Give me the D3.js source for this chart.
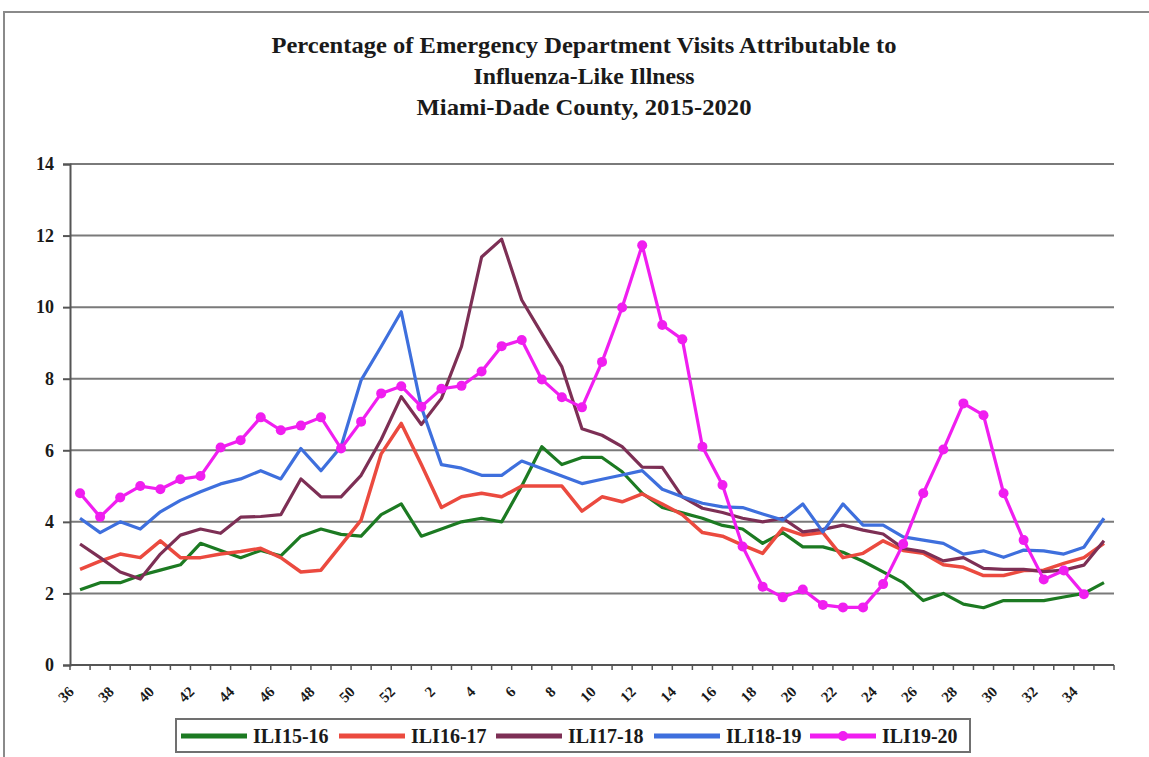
<!DOCTYPE html>
<html>
<head>
<meta charset="utf-8">
<script src="https://cdn.jsdelivr.net/npm/d3@7/dist/d3.min.js"></script>
<style>
  html, body { margin: 0; padding: 0; background: #ffffff; }
  svg { display: block; }
  text { font-family: "Liberation Serif", "Times New Roman", serif; font-weight: bold; fill: #1a1a1a; }
</style>
</head>
<body>
<svg id="chart" width="1149" height="757"></svg>
<script>
const weeks = [36,37,38,39,40,41,42,43,44,45,46,47,48,49,50,51,52,1,2,3,4,5,6,7,8,9,10,11,12,13,14,15,16,17,18,19,20,21,22,23,24,25,26,27,28,29,30,31,32,33,34,35];
const weekLabels = [36,38,40,42,44,46,48,50,52,2,4,6,8,10,12,14,16,18,20,22,24,26,28,30,32,34];
const yTicks = [0,2,4,6,8,10,12,14];

const ili1516 = [2.1,2.3,2.3,2.5,2.65,2.8,3.4,3.2,3.0,3.2,3.05,3.6,3.8,3.65,3.6,4.2,4.5,3.6,3.8,4.0,4.1,4.0,5.0,6.1,5.6,5.8,5.8,5.4,4.8,4.4,4.25,4.1,3.9,3.8,3.4,3.7,3.3,3.3,3.15,2.9,2.6,2.3,1.8,2.0,1.7,1.6,1.8,1.8,1.8,1.9,2.0,2.3];
const ili1617 = [2.67,2.9,3.1,3.0,3.47,3.0,3.0,3.1,3.17,3.26,3.0,2.6,2.65,3.35,4.05,5.9,6.75,5.6,4.4,4.7,4.8,4.7,5.0,5.0,5.0,4.3,4.7,4.56,4.78,4.5,4.2,3.7,3.6,3.35,3.12,3.82,3.63,3.7,3.0,3.12,3.47,3.2,3.12,2.8,2.73,2.5,2.5,2.64,2.65,2.84,3.0,3.4];
const ili1718 = [3.38,3.0,2.6,2.4,3.1,3.63,3.8,3.68,4.13,4.15,4.2,5.2,4.7,4.7,5.3,6.3,7.5,6.72,7.45,8.9,11.4,11.9,10.2,9.26,8.33,6.6,6.42,6.1,5.53,5.52,4.7,4.38,4.26,4.1,4.0,4.1,3.72,3.79,3.91,3.77,3.66,3.26,3.17,2.91,3.0,2.7,2.67,2.67,2.61,2.65,2.79,3.47];
const ili1819 = [4.1,3.7,4.0,3.8,4.28,4.6,4.84,5.06,5.2,5.43,5.2,6.05,5.43,6.1,7.96,8.9,9.87,7.2,5.6,5.5,5.3,5.3,5.7,5.49,5.28,5.07,5.19,5.31,5.43,4.91,4.7,4.52,4.42,4.4,4.22,4.05,4.5,3.72,4.5,3.91,3.91,3.58,3.49,3.4,3.1,3.19,3.01,3.21,3.19,3.1,3.29,4.1];
const ili1920 = [4.8,4.14,4.68,5.0,4.91,5.19,5.28,6.08,6.28,6.92,6.56,6.69,6.92,6.05,6.8,7.59,7.79,7.22,7.72,7.8,8.2,8.91,9.08,7.98,7.48,7.2,8.47,9.99,11.73,9.5,9.1,6.1,5.03,3.31,2.19,1.89,2.11,1.68,1.61,1.61,2.26,3.38,4.8,6.02,7.31,6.98,4.8,3.49,2.39,2.64,1.98];

const seriesNames = ["ILI15-16","ILI16-17","ILI17-18","ILI18-19","ILI19-20"];
const seriesValues = [ili1516, ili1617, ili1718, ili1819, ili1920];
const seriesColors = ["#1c7a22","#eb4a3f","#7d2f55","#3e6fdd","#f01ef0"];
const titleLines = ["Percentage of Emergency Department Visits Attributable to","Influenza-Like Illness","Miami-Dade County, 2015-2020"];

const svg = d3.select("#chart");
const W = 1149, H = 757;
const plot = {left: 70, right: 1114, top: 164, bottom: 665};

// outer frame
svg.append("rect").attr("x", 4).attr("y", 12).attr("width", W + 20).attr("height", H + 20)
  .attr("fill", "none").attr("stroke", "#8a8a8a").attr("stroke-width", 2);

// title
const titleW = [625, 221, 335];
const titleG = svg.append("g");
titleLines.forEach((t, i) => {
  const tx = titleG.append("text")
    .attr("x", 584).attr("y", 53 + i * 31)
    .attr("text-anchor", "middle")
    .style("font-size", "23px")
    .text(t);
  const len = tx.node().getComputedTextLength();
  if (Math.abs(len - titleW[i]) > 4) {
    tx.attr("textLength", titleW[i]).attr("lengthAdjust", "spacingAndGlyphs");
  }
});

const x = d3.scaleBand().domain(weeks.map(String)).range([plot.left, plot.right]).padding(0);
const y = d3.scaleLinear().domain([0, 14]).range([plot.bottom, plot.top]);
const cx = i => x(String(weeks[i])) + x.bandwidth() / 2;

// gridlines
svg.append("g").selectAll("line").data(yTicks.filter(d => d > 0)).join("line")
  .attr("x1", plot.left).attr("x2", plot.right)
  .attr("y1", d => y(d)).attr("y2", d => y(d))
  .attr("stroke", "#7a7a7a").attr("stroke-width", 2);

// y axis
const yAxis = svg.append("g").attr("transform", `translate(${plot.left},0)`)
  .call(d3.axisLeft(y).tickValues(yTicks).tickSize(7).tickPadding(9).tickFormat(d3.format("d")));
yAxis.select(".domain").attr("stroke", "#555").attr("stroke-width", 2);
yAxis.selectAll(".tick line").attr("stroke", "#555").attr("stroke-width", 2);
yAxis.selectAll(".tick text").style("font-size", "18px")
  .style("font-family", "'Liberation Serif', serif").style("font-weight", "bold").attr("fill", "#1a1a1a");

// x axis line and ticks
svg.append("line").attr("x1", plot.left).attr("x2", plot.right)
  .attr("y1", plot.bottom).attr("y2", plot.bottom)
  .attr("stroke", "#555").attr("stroke-width", 2);
const edges = weeks.map(w => x(String(w))).concat([plot.right]);
svg.append("g").selectAll("line").data(edges).join("line")
  .attr("x1", d => d).attr("x2", d => d)
  .attr("y1", plot.bottom).attr("y2", plot.bottom + 5)
  .attr("stroke", "#555").attr("stroke-width", 1.5);

// x labels
svg.append("g").selectAll("text").data(weekLabels).join("text")
  .attr("transform", d => `translate(${x(String(d)) + x.bandwidth() / 2 - 9},${plot.bottom + 24}) rotate(-45)`)
  .attr("text-anchor", "end")
  .attr("dy", "0.35em")
  .style("font-size", "15px")
  .text(d => d);

// lines
const line = d3.line().x((d, i) => cx(i)).y(d => y(d));
seriesValues.forEach((vals, s) => {
  svg.append("path").datum(vals)
    .attr("d", line)
    .attr("fill", "none")
    .attr("stroke", seriesColors[s])
    .attr("stroke-width", s === 1 ? 3.5 : 3.2)
    .attr("stroke-linejoin", "round");
});
// markers for ILI19-20
svg.append("g").selectAll("circle").data(ili1920).join("circle")
  .attr("cx", (d, i) => cx(i)).attr("cy", d => y(d)).attr("r", 5)
  .attr("fill", seriesColors[4]);

// legend
const legend = svg.append("g");
legend.append("rect").attr("x", 176).attr("y", 719).attr("width", 794).attr("height", 33)
  .attr("fill", "#fff").attr("stroke", "#707070").attr("stroke-width", 2);
const legX = [181, 339, 496, 654, 810];
seriesNames.forEach((n, i) => {
  const g = legend.append("g").attr("transform", `translate(${legX[i]},736)`);
  g.append("line").attr("x1", 0).attr("x2", 66).attr("y1", 0).attr("y2", 0)
    .attr("stroke", seriesColors[i]).attr("stroke-width", 5);
  if (i === 4) g.append("circle").attr("cx", 33).attr("cy", 0).attr("r", 5).attr("fill", seriesColors[i]);
  g.append("text").attr("x", 72).attr("y", 0).attr("dy", "0.35em")
    .style("font-size", "20px").text(n);
});
</script>
</body>
</html>
